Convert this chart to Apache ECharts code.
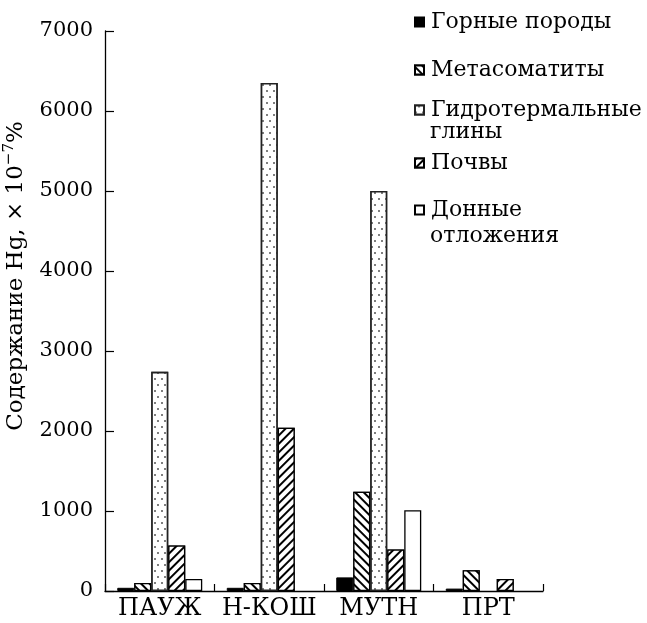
<!DOCTYPE html>
<html>
<head>
<meta charset="utf-8">
<script src="https://cdn.jsdelivr.net/npm/echarts@6/dist/echarts.min.js"></script>
<style>
  html, body { margin: 0; padding: 0; background: #fff; }
  #chart { width: 647px; height: 623px; }
</style>
</head>
<body>
<div id="chart"></div>
<script>
// Mercury content by sample type at four geothermal fields
const categories = ['ПАУЖ', 'Н-КОШ', 'МУТН', 'ПРТ'];
const seriesNames = ['Горные породы', 'Метасоматиты', 'Гидротермальные глины', 'Почвы', 'Донные отложения'];
const rocks         = [40, 40, 170, 30];
const metasomatites = [100, 100, 1240, 260];
const clays         = [2740, 6350, 5000, null];
const soils         = [570, 2040, 520, 150];
const sediments     = [150, null, 1010, null];
const yTicks = { min: 0, max: 7000, step: 1000 };

const FONT = 'DejaVu Serif';

// diagonal hatching; rotation sign picks the slope
const hatch = (rot) => ({
  symbol: 'rect',
  symbolSize: 1,
  color: '#000',
  backgroundColor: '#fff',
  dashArrayX: [1, 0],
  dashArrayY: [1.6, 4.0],
  rotation: rot
});

// staggered dot fill
const dots = {
  symbol: 'circle',
  symbolSize: 1,
  color: '#555',
  backgroundColor: '#fff',
  dashArrayX: [[1.8, 4.2], [0, 3, 1.8, 1.2]],
  dashArrayY: [1.8, 3.2],
  rotation: 0
};

const styles = [
  { color: '#000', borderColor: '#000', borderWidth: 1 },
  { color: '#fff', borderColor: '#000', borderWidth: 1.3, decal: hatch(Math.PI / 4) },
  { color: '#fff', borderColor: '#222', borderWidth: 1.6, decal: dots },
  { color: '#fff', borderColor: '#000', borderWidth: 1.3, decal: hatch(-Math.PI / 4) },
  { color: '#fff', borderColor: '#000', borderWidth: 1.3 }
];
const values = [rocks, metasomatites, clays, soils, sediments];

// legend rows: first line shown by the legend, second line (if any) as plain text
const legendRows = [
  { y: 22 }, { y: 70 }, { y: 110, line2: 'глины', y2: 133 }, { y: 163 }, { y: 210, line2: 'отложения', y2: 237 }
];
const firstLine = { 'Гидротермальные глины': 'Гидротермальные', 'Донные отложения': 'Донные' };
const LEGEND_FONT = 22;

const legends = seriesNames.map((name, i) => ({
  data: [{ name, icon: 'rect' }],
  left: 414,
  top: legendRows[i].y - LEGEND_FONT / 2,
  padding: 0,
  itemWidth: 9,
  itemHeight: 9,
  itemGap: 0,
  selectedMode: false,
  formatter: (n) => firstLine[n] || n,
  textStyle: { fontFamily: FONT, fontSize: LEGEND_FONT, color: '#000', lineHeight: LEGEND_FONT, padding: [0, 0, 0, 2] }
}));

const extraText = legendRows.filter(r => r.line2).map(r => ({
  type: 'text',
  left: 430,
  top: r.y2 - LEGEND_FONT / 2 - 1,
  style: { text: r.line2, fontFamily: FONT, fontSize: LEGEND_FONT, fill: '#000' }
}));

const series = seriesNames.map((name, i) => ({
  name,
  type: 'bar',
  data: values[i],
  barWidth: 17,
  barGap: '0%',
  itemStyle: styles[i],
  emphasis: { disabled: true },
  animation: false
}));

const chart = echarts.init(document.getElementById('chart'), null, { renderer: 'canvas' });
chart.setOption({
  backgroundColor: '#fff',
  animation: false,
  grid: { left: 105, right: 104, top: 31, bottom: 32, containLabel: false, outerBoundsMode: 'none' },
  legend: legends,
  graphic: extraText,
  xAxis: {
    type: 'category',
    data: categories,
    axisLine: { lineStyle: { color: '#000', width: 1.3 } },
    axisTick: { show: true, inside: true, length: 7, lineStyle: { color: '#000', width: 1.2 } },
    axisLabel: { fontFamily: FONT, fontSize: 24, color: '#000', margin: 6, interval: 0 }
  },
  yAxis: {
    type: 'value',
    min: yTicks.min,
    max: yTicks.max,
    interval: yTicks.step,
    splitLine: { show: false },
    axisLine: { show: true, lineStyle: { color: '#000', width: 1.3 } },
    axisTick: { show: true, inside: true, length: 9, lineStyle: { color: '#000', width: 1.2 } },
    axisLabel: { fontFamily: FONT, fontSize: 21, color: '#000', margin: 12, formatter: (v) => String(v) },
    name: '{a|Содержание Hg, × 10}{s|−7}{a|%}',
    nameLocation: 'middle',
    nameGap: 74,
    nameRotate: 90,
    nameTextStyle: {
      padding: [0, 0, 0, 70],
      rich: {
        a: { fontFamily: FONT, fontSize: 23, color: '#000', lineHeight: 28 },
        s: { fontFamily: FONT, fontSize: 15, color: '#000', lineHeight: 28, verticalAlign: 'top', padding: [0, 0, 12, 0] }
      }
    }
  },
  series
});
</script>
</body>
</html>
